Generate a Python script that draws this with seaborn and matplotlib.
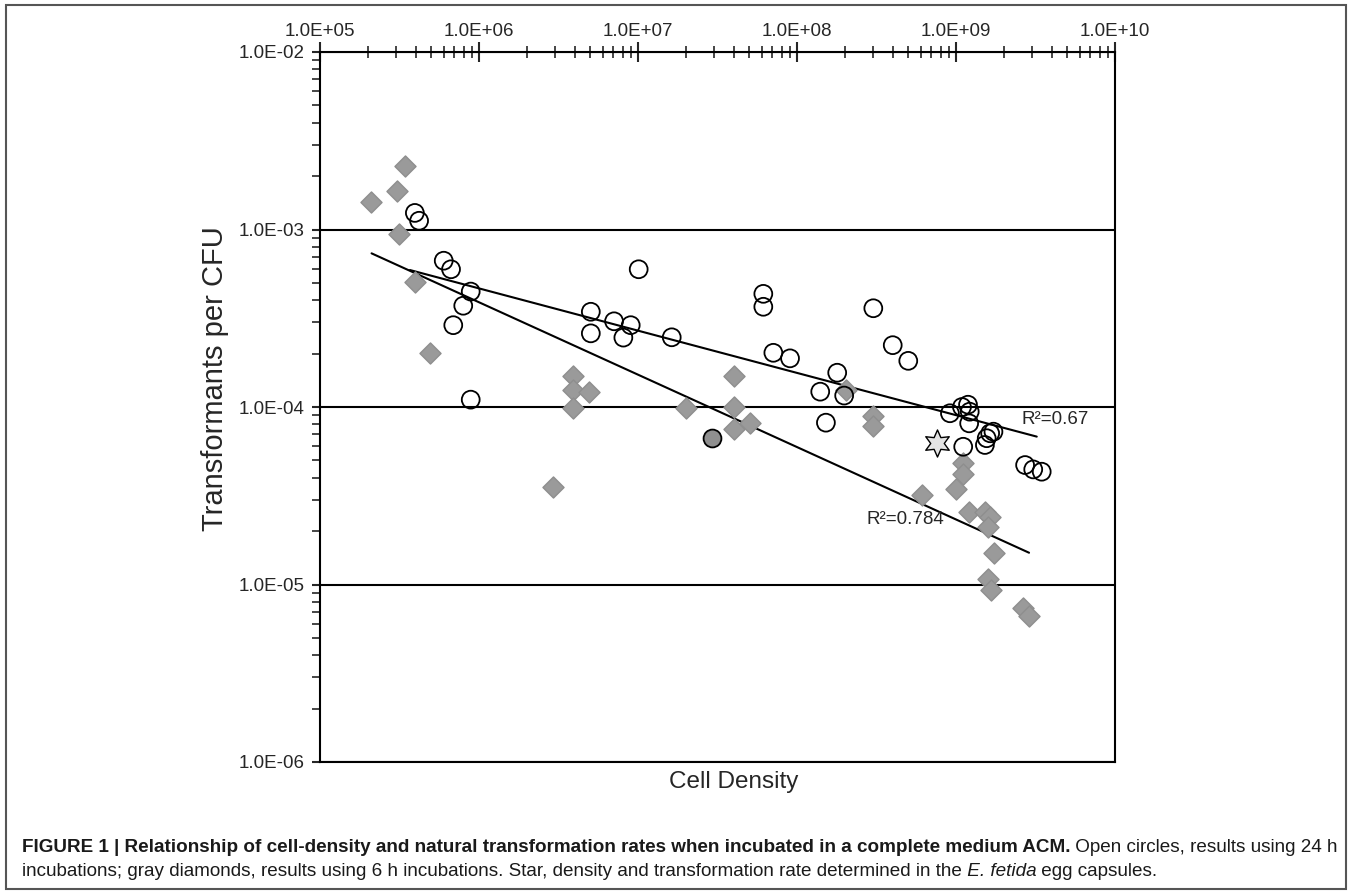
import numpy as np
import pandas as pd
import seaborn as sns
import matplotlib.pyplot as plt
from matplotlib import font_manager
from matplotlib.ticker import LogLocator, FuncFormatter, NullFormatter
from matplotlib.patches import Rectangle

# open circles, 24 h incubations
dens_24h = [3.95e5, 4.2e5, 6.0e5, 6.67e5, 8.87e5, 7.96e5, 6.89e5, 8.87e5,
            1.01e7, 5.05e6, 7.07e6, 9.0e6, 5.05e6, 8.09e6, 1.63e7,
            6.14e7, 6.14e7, 3.02e8, 4.0e8, 5.01e8, 7.1e7, 9.04e7, 1.79e8,
            1.40e8, 1.98e8, 1.52e8, 9.16e8, 1.09e9, 1.19e9, 1.22e9, 1.21e9,
            1.11e9, 1.72e9, 1.64e9, 1.56e9, 1.52e9, 2.72e9, 3.06e9, 3.46e9]
rate_24h = [1.24e-3, 1.12e-3, 6.67e-4, 5.97e-4, 4.47e-4, 3.72e-4, 2.89e-4, 1.10e-4,
            5.97e-4, 3.44e-4, 3.04e-4, 2.89e-4, 2.60e-4, 2.46e-4, 2.47e-4,
            4.34e-4, 3.67e-4, 3.60e-4, 2.23e-4, 1.82e-4, 2.02e-4, 1.88e-4, 1.56e-4,
            1.22e-4, 1.16e-4, 8.16e-5, 9.22e-5, 1.00e-4, 1.03e-4, 9.41e-5, 8.09e-5,
            5.97e-5, 7.26e-5, 7.11e-5, 6.67e-5, 6.11e-5, 4.71e-5, 4.45e-5, 4.32e-5]

# gray diamonds, 6 h incubations
dens_6h = [3.43e5, 3.03e5, 2.09e5, 3.15e5, 3.95e5, 4.92e5,
           3.92e6, 3.92e6, 4.92e6, 3.92e6, 2.0e7, 4.04e7, 4.04e7, 4.04e7, 5.06e7,
           2.93e6, 2.02e8, 3.02e8, 3.02e8, 6.08e8, 1.11e9, 1.11e9, 1.0e9,
           1.21e9, 1.52e9, 1.64e9, 1.60e9, 1.73e9, 1.60e9, 1.65e9, 2.65e9, 2.89e9]
rate_6h = [2.29e-3, 1.65e-3, 1.42e-3, 9.44e-4, 5.05e-4, 2.02e-4,
           1.50e-4, 1.25e-4, 1.21e-4, 9.91e-5, 9.91e-5, 1.50e-4, 1.0e-4, 7.48e-5, 8.16e-5,
           3.56e-5, 1.24e-4, 8.93e-5, 7.82e-5, 3.19e-5, 4.82e-5, 4.18e-5, 3.44e-5,
           2.57e-5, 2.57e-5, 2.41e-5, 2.10e-5, 1.51e-5, 1.08e-5, 9.31e-6, 7.34e-6, 6.65e-6]

# point where a circle and a diamond coincide
dens_both = [2.92e7]
rate_both = [6.68e-5]

# star, E. fetida egg capsules
dens_star = [7.6e8]
rate_star = [6.27e-5]

# power-law fit lines (end points)
fit_24h_x = [3.68e5, 3.22e9]
fit_24h_y = [5.91e-4, 6.81e-5]
fit_6h_x = [2.11e5, 2.88e9]
fit_6h_y = [7.34e-4, 1.51e-5]

r2_labels = ['R\u00b2=0.67', 'R\u00b2=0.784']
r2_x = [2.6e9, 2.72e8]
r2_y = [8.55e-5, 2.31e-5]

caption_1 = [("FIGURE 1 | Relationship of cell-density and natural transformation rates "
              "when incubated in a complete medium ACM.", 'bold', 'normal'),
             (" Open circles, results using 24 h", 'normal', 'normal')]
caption_2 = [("incubations; gray diamonds, results using 6 h incubations. Star, density and "
              "transformation rate determined in the", 'normal', 'normal'),
             (" E. fetida", 'normal', 'italic'),
             (" egg capsules.", 'normal', 'normal')]

#%%
sns.set_style('ticks')
names = {f.name for f in font_manager.fontManager.ttflist}
main_font = 'Liberation Sans'
cap_font = 'Liberation Sans Narrow' if 'Liberation Sans Narrow' in names else 'Liberation Sans'
plt.rcParams['font.family'] = [main_font, 'DejaVu Sans']

W, H = 1349, 894
fig = plt.figure(figsize=(W / 100, H / 100), dpi=100)
fig.patches.append(Rectangle((6 / W, 5 / H), 1340 / W, 884 / H, transform=fig.transFigure,
                             fill=False, edgecolor='#555555', linewidth=1.5, zorder=0))
ax = fig.add_axes([320 / W, 1 - 762 / H, 795 / W, 710 / H])

circles = pd.DataFrame({'density': dens_24h, 'rate': rate_24h})
diamonds = pd.DataFrame({'density': dens_6h, 'rate': rate_6h})

sns.scatterplot(data=diamonds, x='density', y='rate', marker='D', s=115,
                color='#9a9a9a', edgecolor='#8e8e8e', linewidth=1, ax=ax, zorder=3)
sns.scatterplot(data=circles, x='density', y='rate', marker='o', s=165,
                facecolor='none', edgecolor='black', linewidth=1.3, ax=ax, zorder=4)
sns.scatterplot(x=dens_both, y=rate_both, marker='o', s=165, color='#8f8f8f',
                edgecolor='black', linewidth=1.3, ax=ax, zorder=4)
sns.scatterplot(x=dens_star, y=rate_star, marker=(6, 1, 0), s=380, color='#e4e4e4',
                edgecolor='black', linewidth=1.0, ax=ax, zorder=5)

sns.lineplot(x=fit_24h_x, y=fit_24h_y, color='black', linewidth=1.5, ax=ax,
             estimator=None, zorder=2)
sns.lineplot(x=fit_6h_x, y=fit_6h_y, color='black', linewidth=1.5, ax=ax,
             estimator=None, zorder=2)

for lab, tx, ty in zip(r2_labels, r2_x, r2_y):
    ax.text(tx, ty, lab, fontsize=13.5, va='center', ha='left', zorder=6)

ax.set_xscale('log')
ax.set_yscale('log')
ax.set_xlim(1e5, 1e10)
ax.set_ylim(1e-6, 1e-2)

fmt = FuncFormatter(lambda v, p: f'{v:.1E}')
ax.xaxis.tick_top()
ax.xaxis.set_major_locator(LogLocator(base=10, numticks=10))
ax.xaxis.set_minor_locator(LogLocator(base=10, subs=np.arange(2, 10), numticks=20))
ax.yaxis.set_major_locator(LogLocator(base=10, numticks=10))
ax.yaxis.set_minor_locator(LogLocator(base=10, subs=np.arange(2, 10), numticks=20))
ax.xaxis.set_major_formatter(fmt)
ax.yaxis.set_major_formatter(fmt)
ax.xaxis.set_minor_formatter(NullFormatter())
ax.yaxis.set_minor_formatter(NullFormatter())

ax.tick_params(axis='x', which='major', direction='inout', length=14, width=1.5,
               labelsize=13.5, pad=2)
ax.tick_params(axis='x', which='minor', direction='inout', length=8, width=1.2)
ax.tick_params(axis='y', which='major', direction='out', length=6, width=1.5,
               labelsize=13.5, pad=5)
ax.tick_params(axis='y', which='minor', direction='out', length=6, width=1.2)

ax.yaxis.grid(True, which='major', color='black', linewidth=1.5)
ax.xaxis.grid(False)
for sp in ax.spines.values():
    sp.set_visible(True)
    sp.set_linewidth(1.5)
    sp.set_color('black')

ax.set_xlabel('Cell Density', fontsize=17.5)
ax.set_ylabel('Transformants per CFU', fontsize=21)
ax.xaxis.set_label_coords(0.52, -0.012)
ax.yaxis.set_label_coords(-0.114, 0.54)

#%%
# caption, bold lead-in followed by plain text
fig.canvas.draw()
rend = fig.canvas.get_renderer()


def line_width(parts, size):
    total = 0
    for s, w, st in parts:
        t = fig.text(0, 0, s, fontsize=size, fontweight=w, fontstyle=st, family=cap_font)
        total += t.get_window_extent(rend).width
        t.remove()
    return total


cap_size = 10 * 1315 / line_width(caption_1, 10)


def put_line(parts, y):
    x = 22 / W
    for s, w, st in parts:
        t = fig.text(x, y, s, fontsize=cap_size, fontweight=w, fontstyle=st,
                     family=cap_font, va='center', color='#1a1a1a')
        x += t.get_window_extent(rend).width / W


put_line(caption_1, 1 - 848 / H)
put_line(caption_2, 1 - 871 / H)

fig.savefig('out.png', dpi=100, facecolor='white')
